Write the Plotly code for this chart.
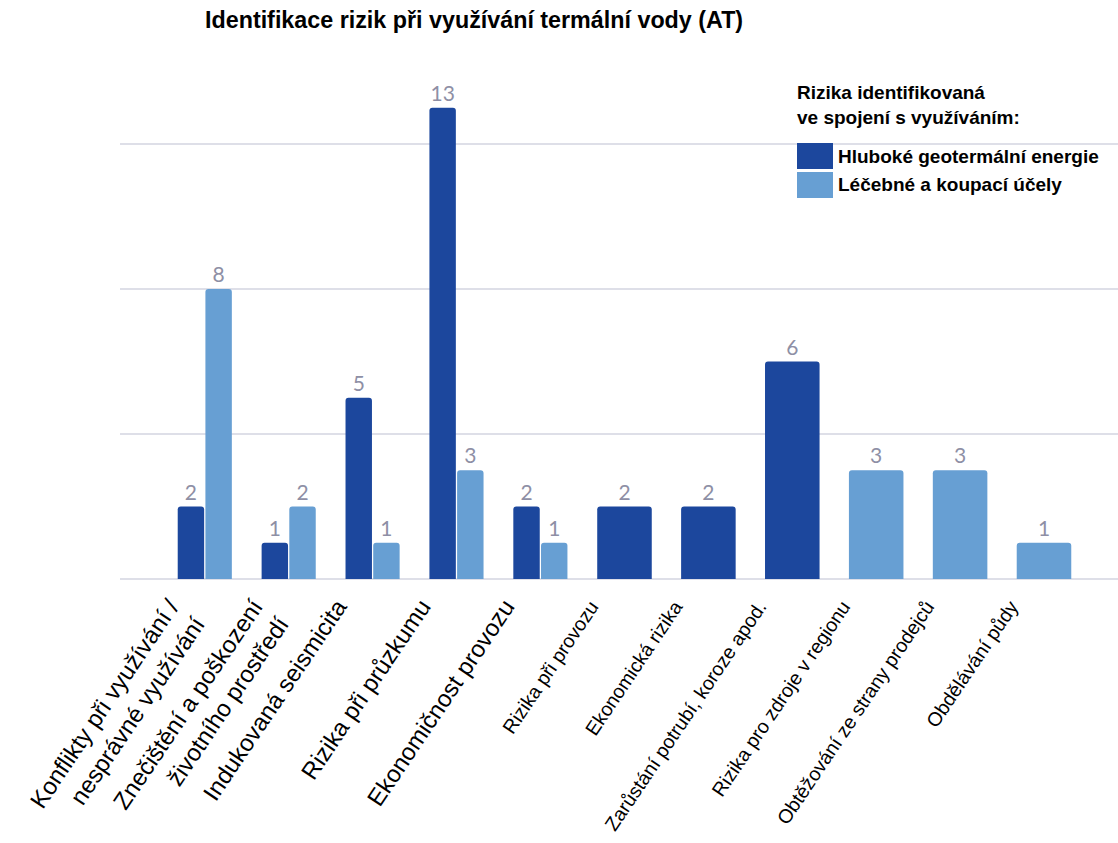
import plotly.graph_objects as go

# ---- data -----------------------------------------------------------------
categories = [
    "Konflikty při využívání /<br>nesprávné využívání",
    "Znečištění a poškození<br>životního prostředí",
    "Indukovaná seismicita",
    "Rizika při průzkumu",
    "Ekonomičnost provozu",
    "Rizika při provozu",
    "Ekonomická rizika",
    "Zarůstání potrubí, koroze apod.",
    "Rizika pro zdroje v regionu",
    "Obtěžování ze strany prodejců",
    "Obdělávání půdy",
]
deep_geothermal = [2, 1, 5, 13, 2, 2, 2, 6, None, None, None]
spa_bathing = [8, 2, 1, 3, 1, None, None, None, 3, 3, 1]
series_names = ["Hluboké geotermální energie", "Léčebné a koupací účely"]
legend_heading = "Rizika identifikovaná<br>ve spojení s využíváním:"
chart_title = "Identifikace rizik při využívání termální vody (AT)"
n_large_labels = 5          # the first labels are printed in a larger size
grid_values = [0, 4, 8, 12]

# ---- style ----------------------------------------------------------------
W, H = 1118, 843
L, R, T, B = 120, 0, 40, 262
DARK = "#1c479d"
LIGHT = "#679fd3"
VALUE_GREY = "#8e8fa5"
GRID = "#dedfe8"
ARIAL = "Liberation Sans, Arial, sans-serif"

plot_w = W - L - R
plot_h = H - T - B
unit_px = 36.25                     # pixels per value unit
y_low = -(H - B - 579) / unit_px
y_high = y_low + plot_h / unit_px
x_low = -1.013
x_high = x_low + plot_w / 83.9

x = list(range(len(categories)))

# paired categories get two narrow bars, single-series ones one wide bar
def geometry(values, other, side):
    widths, offsets = [], []
    for v, o in zip(values, other):
        if o is None:
            widths.append(0.65)
            offsets.append(-0.325)
        else:
            widths.append(0.315)
            offsets.append(-0.325 if side == 0 else 0.005)
    return widths, offsets

w0, o0 = geometry(deep_geothermal, spa_bathing, 0)
w1, o1 = geometry(spa_bathing, deep_geothermal, 1)

fig = go.Figure()
for vals, wd, off, col, name in [
    (deep_geothermal, w0, o0, DARK, series_names[0]),
    (spa_bathing, w1, o1, LIGHT, series_names[1]),
]:
    fig.add_trace(go.Bar(
        x=x, y=vals, width=wd, offset=off, name=name,
        marker=dict(color=col, cornerradius=3, line=dict(width=0)),
        text=[None if v is None else str(v) for v in vals],
        textposition="outside",
        constraintext="none",
        cliponaxis=False,
        textfont=dict(family="Lato, Open Sans, sans-serif", size=21,
                      color=VALUE_GREY),
        showlegend=False,
    ))

ticktext = [
    c if i < n_large_labels else f'<span style="font-size:19.5px">{c}</span>'
    for i, c in enumerate(categories)
]

fig.update_layout(
    width=W, height=H,
    margin=dict(l=L, r=R, t=T, b=B),
    paper_bgcolor="white",
    plot_bgcolor="white",
    barmode="overlay",
    title=dict(text=f"<b>{chart_title}</b>", x=205 / W, xanchor="left",
               xref="container", y=1 - 20 / H, yanchor="middle",
               font=dict(family=ARIAL, size=23.3, color="black")),
    xaxis=dict(range=[x_low, x_high], tickvals=x, ticktext=ticktext,
               tickangle=-56, showgrid=False, zeroline=False, showline=False,
               ticks="", tickfont=dict(family=ARIAL, size=24, color="black"),
               ticklabelshift=-35, ticklabelstandoff=6),
    yaxis=dict(range=[y_low, y_high], tickvals=grid_values,
               showticklabels=False, showgrid=True, gridcolor=GRID,
               gridwidth=2, zeroline=False, showline=False),
)

# ---- hand-built legend -------------------------------------------------------
def px_x(px):
    return (px - L) / plot_w

def px_y(py):
    return (H - B - py) / plot_h

fig.add_annotation(
    text=f"<b>{legend_heading}</b>", xref="paper", yref="paper",
    x=px_x(795), y=px_y(80), xanchor="left", yanchor="top", align="left",
    showarrow=False, font=dict(family=ARIAL, size=19, color="black"),
)
for i, (name, col) in enumerate(zip(series_names, [DARK, LIGHT])):
    top = 143 + i * 29
    fig.add_shape(type="rect", xref="paper", yref="paper",
                  x0=px_x(797), x1=px_x(833), y0=px_y(top), y1=px_y(top + 26),
                  fillcolor=col, line=dict(width=0), layer="above")
    fig.add_annotation(
        text=f"<b>{name}</b>", xref="paper", yref="paper",
        x=px_x(836), y=px_y(top + 13), xanchor="left", yanchor="middle",
        showarrow=False, font=dict(family=ARIAL, size=19, color="black"),
    )

fig.write_html("out.html")
